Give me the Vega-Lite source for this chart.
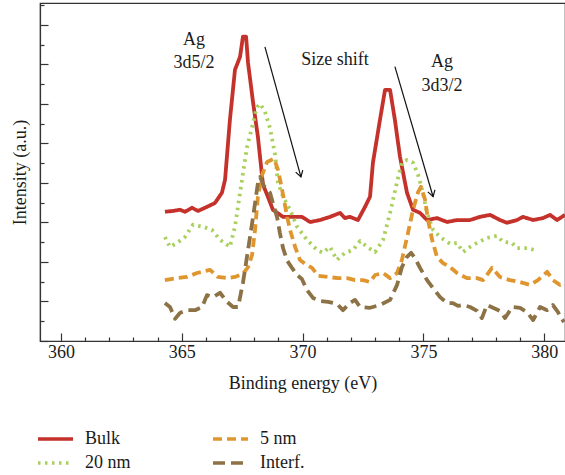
{
  "$schema": "https://vega.github.io/schema/vega-lite/v6.json",
  "autosize": {"type": "none"},
  "padding": {"left": 40, "top": 3, "right": 0, "bottom": 135},
  "width": 525,
  "height": 338,
  "config": {
    "view": {"stroke": "#333", "strokeWidth": 1.2},
    "font": "Liberation Serif",
    "axis": {"grid": false, "domainColor": "#333", "tickColor": "#333", "domainWidth": 1.2, "tickWidth": 1.2,
      "labelFont": "Liberation Serif", "titleFont": "Liberation Serif", "labelColor": "#1a1a1a", "titleColor": "#1a1a1a",
      "titleFontWeight": "normal", "labelFontSize": 18, "titleFontSize": 18}
  },
  "resolve": {"axis": {"x": "independent", "y": "independent"}},
  "layer": [
    {
      "data": {"values": [
        {"s":"Bulk","e":364.30,"v":3.27},{"s":"Bulk","e":364.64,"v":3.29},{"s":"Bulk","e":364.92,"v":3.32},{"s":"Bulk","e":365.13,"v":3.27},{"s":"Bulk","e":365.42,"v":3.37},{"s":"Bulk","e":365.67,"v":3.29},{"s":"Bulk","e":365.96,"v":3.37},{"s":"Bulk","e":366.37,"v":3.49},{"s":"Bulk","e":366.66,"v":3.75},{"s":"Bulk","e":366.79,"v":4.08},{"s":"Bulk","e":366.99,"v":5.59},{"s":"Bulk","e":367.20,"v":6.86},{"s":"Bulk","e":367.41,"v":7.19},{"s":"Bulk","e":367.53,"v":7.70},{"s":"Bulk","e":367.66,"v":7.70},{"s":"Bulk","e":367.74,"v":7.04},{"s":"Bulk","e":367.95,"v":6.03},{"s":"Bulk","e":368.15,"v":5.16},{"s":"Bulk","e":368.36,"v":3.95},{"s":"Bulk","e":368.53,"v":3.70},{"s":"Bulk","e":368.77,"v":3.32},{"s":"Bulk","e":369.19,"v":3.14},{"s":"Bulk","e":369.60,"v":3.14},{"s":"Bulk","e":369.97,"v":3.14},{"s":"Bulk","e":370.31,"v":3.01},{"s":"Bulk","e":370.72,"v":3.06},{"s":"Bulk","e":371.13,"v":3.14},{"s":"Bulk","e":371.55,"v":3.24},{"s":"Bulk","e":371.75,"v":3.11},{"s":"Bulk","e":371.96,"v":3.14},{"s":"Bulk","e":372.29,"v":3.06},{"s":"Bulk","e":372.58,"v":3.39},{"s":"Bulk","e":372.79,"v":3.65},{"s":"Bulk","e":372.91,"v":4.51},{"s":"Bulk","e":373.20,"v":5.59},{"s":"Bulk","e":373.41,"v":6.35},{"s":"Bulk","e":373.62,"v":6.35},{"s":"Bulk","e":373.82,"v":5.59},{"s":"Bulk","e":374.03,"v":4.66},{"s":"Bulk","e":374.32,"v":3.75},{"s":"Bulk","e":374.57,"v":3.32},{"s":"Bulk","e":374.86,"v":3.24},{"s":"Bulk","e":375.15,"v":3.06},{"s":"Bulk","e":375.56,"v":3.11},{"s":"Bulk","e":375.98,"v":3.01},{"s":"Bulk","e":376.39,"v":3.06},{"s":"Bulk","e":376.93,"v":3.06},{"s":"Bulk","e":377.34,"v":3.14},{"s":"Bulk","e":377.76,"v":3.19},{"s":"Bulk","e":378.17,"v":3.06},{"s":"Bulk","e":378.46,"v":2.99},{"s":"Bulk","e":378.87,"v":3.06},{"s":"Bulk","e":379.12,"v":3.14},{"s":"Bulk","e":379.54,"v":3.06},{"s":"Bulk","e":379.95,"v":3.11},{"s":"Bulk","e":380.24,"v":3.19},{"s":"Bulk","e":380.53,"v":3.06},{"s":"Bulk","e":380.86,"v":3.19},

        {"s":"20 nm","e":364.30,"v":2.63},{"s":"20 nm","e":364.51,"v":2.38},{"s":"20 nm","e":364.80,"v":2.48},{"s":"20 nm","e":365.13,"v":2.63},{"s":"20 nm","e":365.46,"v":2.94},{"s":"20 nm","e":365.88,"v":2.89},{"s":"20 nm","e":366.25,"v":2.81},{"s":"20 nm","e":366.58,"v":2.56},{"s":"20 nm","e":366.99,"v":2.38},{"s":"20 nm","e":367.20,"v":2.89},{"s":"20 nm","e":367.41,"v":3.75},{"s":"20 nm","e":367.70,"v":4.91},{"s":"20 nm","e":367.91,"v":5.42},{"s":"20 nm","e":368.11,"v":5.92},{"s":"20 nm","e":368.24,"v":6.00},{"s":"20 nm","e":368.44,"v":5.80},{"s":"20 nm","e":368.65,"v":5.39},{"s":"20 nm","e":368.86,"v":4.71},{"s":"20 nm","e":368.98,"v":4.00},{"s":"20 nm","e":369.19,"v":3.65},{"s":"20 nm","e":369.48,"v":3.32},{"s":"20 nm","e":369.77,"v":2.89},{"s":"20 nm","e":370.18,"v":2.56},{"s":"20 nm","e":370.60,"v":2.30},{"s":"20 nm","e":370.84,"v":2.23},{"s":"20 nm","e":371.13,"v":2.38},{"s":"20 nm","e":371.42,"v":2.05},{"s":"20 nm","e":371.75,"v":2.23},{"s":"20 nm","e":372.09,"v":2.30},{"s":"20 nm","e":372.38,"v":2.53},{"s":"20 nm","e":372.67,"v":2.38},{"s":"20 nm","e":373.00,"v":2.25},{"s":"20 nm","e":373.33,"v":2.56},{"s":"20 nm","e":373.62,"v":3.24},{"s":"20 nm","e":373.91,"v":4.03},{"s":"20 nm","e":374.11,"v":4.51},{"s":"20 nm","e":374.32,"v":4.58},{"s":"20 nm","e":374.57,"v":4.51},{"s":"20 nm","e":374.78,"v":4.20},{"s":"20 nm","e":374.94,"v":3.85},{"s":"20 nm","e":375.15,"v":3.24},{"s":"20 nm","e":375.40,"v":2.81},{"s":"20 nm","e":375.69,"v":2.63},{"s":"20 nm","e":376.10,"v":2.46},{"s":"20 nm","e":376.39,"v":2.48},{"s":"20 nm","e":376.64,"v":2.25},{"s":"20 nm","e":376.93,"v":2.38},{"s":"20 nm","e":377.22,"v":2.48},{"s":"20 nm","e":377.63,"v":2.61},{"s":"20 nm","e":378.05,"v":2.66},{"s":"20 nm","e":378.29,"v":2.51},{"s":"20 nm","e":378.67,"v":2.48},{"s":"20 nm","e":378.87,"v":2.35},{"s":"20 nm","e":379.29,"v":2.35},{"s":"20 nm","e":379.74,"v":2.28},

        {"s":"5 nm","e":364.30,"v":1.54},{"s":"5 nm","e":364.80,"v":1.59},{"s":"5 nm","e":365.21,"v":1.62},{"s":"5 nm","e":365.63,"v":1.72},{"s":"5 nm","e":366.17,"v":1.80},{"s":"5 nm","e":366.50,"v":1.62},{"s":"5 nm","e":366.87,"v":1.59},{"s":"5 nm","e":367.20,"v":1.62},{"s":"5 nm","e":367.53,"v":1.70},{"s":"5 nm","e":367.74,"v":1.87},{"s":"5 nm","e":367.91,"v":2.18},{"s":"5 nm","e":368.03,"v":2.81},{"s":"5 nm","e":368.15,"v":3.65},{"s":"5 nm","e":368.32,"v":4.20},{"s":"5 nm","e":368.53,"v":4.53},{"s":"5 nm","e":368.82,"v":4.61},{"s":"5 nm","e":368.98,"v":4.33},{"s":"5 nm","e":369.11,"v":3.95},{"s":"5 nm","e":369.23,"v":3.57},{"s":"5 nm","e":369.36,"v":3.14},{"s":"5 nm","e":369.48,"v":2.81},{"s":"5 nm","e":369.69,"v":2.38},{"s":"5 nm","e":369.89,"v":2.05},{"s":"5 nm","e":370.10,"v":1.95},{"s":"5 nm","e":370.39,"v":1.85},{"s":"5 nm","e":370.64,"v":1.65},{"s":"5 nm","e":371.05,"v":1.62},{"s":"5 nm","e":371.46,"v":1.59},{"s":"5 nm","e":371.84,"v":1.59},{"s":"5 nm","e":372.17,"v":1.54},{"s":"5 nm","e":372.50,"v":1.54},{"s":"5 nm","e":372.79,"v":1.49},{"s":"5 nm","e":373.00,"v":1.67},{"s":"5 nm","e":373.33,"v":1.72},{"s":"5 nm","e":373.62,"v":1.59},{"s":"5 nm","e":373.91,"v":1.72},{"s":"5 nm","e":374.11,"v":2.05},{"s":"5 nm","e":374.36,"v":2.73},{"s":"5 nm","e":374.57,"v":3.32},{"s":"5 nm","e":374.78,"v":3.77},{"s":"5 nm","e":374.90,"v":3.90},{"s":"5 nm","e":375.07,"v":3.57},{"s":"5 nm","e":375.19,"v":3.06},{"s":"5 nm","e":375.36,"v":2.56},{"s":"5 nm","e":375.56,"v":2.13},{"s":"5 nm","e":375.81,"v":1.97},{"s":"5 nm","e":376.10,"v":1.87},{"s":"5 nm","e":376.39,"v":1.72},{"s":"5 nm","e":376.80,"v":1.59},{"s":"5 nm","e":377.22,"v":1.59},{"s":"5 nm","e":377.47,"v":1.54},{"s":"5 nm","e":377.84,"v":1.85},{"s":"5 nm","e":378.17,"v":1.62},{"s":"5 nm","e":378.58,"v":1.54},{"s":"5 nm","e":379.00,"v":1.49},{"s":"5 nm","e":379.41,"v":1.42},{"s":"5 nm","e":379.74,"v":1.54},{"s":"5 nm","e":380.12,"v":1.75},{"s":"5 nm","e":380.36,"v":1.54},{"s":"5 nm","e":380.65,"v":1.42},{"s":"5 nm","e":380.86,"v":1.49},

        {"s":"Interf.","e":364.30,"v":0.96},{"s":"Interf.","e":364.51,"v":0.86},{"s":"Interf.","e":364.72,"v":0.56},{"s":"Interf.","e":364.92,"v":0.71},{"s":"Interf.","e":365.21,"v":0.78},{"s":"Interf.","e":365.55,"v":0.78},{"s":"Interf.","e":365.84,"v":0.86},{"s":"Interf.","e":366.04,"v":1.16},{"s":"Interf.","e":366.29,"v":1.11},{"s":"Interf.","e":366.58,"v":1.22},{"s":"Interf.","e":366.87,"v":0.99},{"s":"Interf.","e":367.12,"v":0.86},{"s":"Interf.","e":367.33,"v":0.86},{"s":"Interf.","e":367.53,"v":1.47},{"s":"Interf.","e":367.74,"v":2.30},{"s":"Interf.","e":367.95,"v":3.14},{"s":"Interf.","e":368.15,"v":4.00},{"s":"Interf.","e":368.24,"v":4.15},{"s":"Interf.","e":368.40,"v":3.92},{"s":"Interf.","e":368.65,"v":3.75},{"s":"Interf.","e":368.77,"v":3.49},{"s":"Interf.","e":368.94,"v":3.14},{"s":"Interf.","e":369.06,"v":2.73},{"s":"Interf.","e":369.19,"v":2.35},{"s":"Interf.","e":369.36,"v":2.03},{"s":"Interf.","e":369.56,"v":1.85},{"s":"Interf.","e":369.77,"v":1.67},{"s":"Interf.","e":369.97,"v":1.57},{"s":"Interf.","e":370.18,"v":1.29},{"s":"Interf.","e":370.43,"v":1.09},{"s":"Interf.","e":370.72,"v":1.01},{"s":"Interf.","e":371.05,"v":0.99},{"s":"Interf.","e":371.42,"v":0.94},{"s":"Interf.","e":371.67,"v":0.78},{"s":"Interf.","e":371.96,"v":0.96},{"s":"Interf.","e":372.17,"v":1.04},{"s":"Interf.","e":372.38,"v":0.86},{"s":"Interf.","e":372.79,"v":0.84},{"s":"Interf.","e":373.20,"v":0.91},{"s":"Interf.","e":373.62,"v":1.04},{"s":"Interf.","e":373.91,"v":1.42},{"s":"Interf.","e":374.11,"v":1.87},{"s":"Interf.","e":374.32,"v":2.13},{"s":"Interf.","e":374.49,"v":2.23},{"s":"Interf.","e":374.65,"v":2.10},{"s":"Interf.","e":374.86,"v":1.85},{"s":"Interf.","e":375.15,"v":1.54},{"s":"Interf.","e":375.36,"v":1.37},{"s":"Interf.","e":375.69,"v":1.11},{"s":"Interf.","e":375.98,"v":0.96},{"s":"Interf.","e":376.22,"v":0.96},{"s":"Interf.","e":376.43,"v":0.89},{"s":"Interf.","e":376.64,"v":0.91},{"s":"Interf.","e":376.93,"v":0.86},{"s":"Interf.","e":377.22,"v":0.76},{"s":"Interf.","e":377.42,"v":0.58},{"s":"Interf.","e":377.63,"v":0.91},{"s":"Interf.","e":377.88,"v":0.84},{"s":"Interf.","e":378.17,"v":0.76},{"s":"Interf.","e":378.38,"v":0.58},{"s":"Interf.","e":378.67,"v":0.86},{"s":"Interf.","e":379.00,"v":0.84},{"s":"Interf.","e":379.29,"v":0.73},{"s":"Interf.","e":379.54,"v":0.53},{"s":"Interf.","e":379.83,"v":0.86},{"s":"Interf.","e":380.12,"v":0.78},{"s":"Interf.","e":380.36,"v":0.91},{"s":"Interf.","e":380.57,"v":0.73},{"s":"Interf.","e":380.70,"v":0.58},{"s":"Interf.","e":380.82,"v":0.48}
      ]},
      "mark": {"type": "line", "strokeWidth": 3.8, "clip": true, "strokeJoin": "round"},
      "encoding": {
        "x": {"field": "e", "type": "quantitative", "title": "Binding energy (eV)",
          "scale": {"domain": [359.13, 380.86], "nice": false, "zero": false},
          "axis": {"values": [360, 365, 370, 375, 380], "labelOverlap": false, "tickSize": -8,
            "labelPadding": 10, "titlePadding": 13}},
        "y": {"field": "v", "type": "quantitative", "title": "Intensity (a.u.)",
          "scale": {"domain": [0, 8.55], "nice": false},
          "axis": {"values": [0,1,2,3,4,5,6,7,8], "labels": false, "tickSize": -8, "titlePadding": 10}},
        "color": {"field": "s", "type": "nominal", "title": null,
          "scale": {"domain": ["Bulk", "20 nm", "5 nm", "Interf."], "range": ["#c4322b", "#a8d05a", "#e0962f", "#8c7245"]},
          "legend": {"orient": "none", "legendX": -4, "legendY": 427, "columns": 2, "direction": "vertical", "symbolType": "stroke", "symbolSize": 1225,
            "symbolStrokeWidth": 3.5, "labelFont": "Liberation Serif", "labelFontSize": 18, "labelColor": "#1a1a1a",
            "labelOffset": 10, "clipHeight": 18, "rowPadding": 6, "columnPadding": 80}},
        "strokeDash": {"field": "s", "type": "nominal", "title": null,
          "scale": {"domain": ["Bulk", "20 nm", "5 nm", "Interf."], "range": [[1, 0], [2.5, 4.5], [9, 5], [12, 6]]}}
      }
    },
    {
      "data": {"values": [
        {"x1": 368.44, "y1": 7.44, "x2": 369.93, "y2": 4.15},
        {"x1": 373.82, "y1": 6.94, "x2": 375.40, "y2": 3.65}
      ]},
      "mark": {"type": "rule", "color": "#111", "strokeWidth": 1.2},
      "encoding": {
        "x": {"field": "x1", "type": "quantitative",
          "axis": {"orient": "bottom", "values": [361,362,363,364,366,367,368,369,371,372,373,374,376,377,378,379], "labels": false, "domain": false, "tickSize": -4, "title": null}},
        "y": {"field": "y1", "type": "quantitative",
          "axis": {"orient": "left", "values": [0.5,1.5,2.5,3.5,4.5,5.5,6.5,7.5,8.5], "labels": false, "domain": false, "tickSize": -4, "title": null}},
        "x2": {"field": "x2"},
        "y2": {"field": "y2"}
      }
    },
    {
      "data": {"values": [
        {"x2": 369.93, "y2": 4.15},
        {"x2": 375.40, "y2": 3.65}
      ]},
      "mark": {"type": "point", "shape": "M -0.6 -1 L 0 0 L 0.6 -1", "filled": false, "stroke": "#111", "strokeWidth": 1.2, "size": 150, "angle": -16, "opacity": 1},
      "encoding": {
        "x": {"field": "x2", "type": "quantitative", "axis": null},
        "y": {"field": "y2", "type": "quantitative", "axis": null}
      }
    },
    {
      "data": {"values": [
        {"t": "Ag", "x": 365.50, "y": 7.62},
        {"t": "3d5/2", "x": 365.50, "y": 7.04},
        {"t": "Size shift", "x": 371.34, "y": 7.11},
        {"t": "Ag", "x": 375.77, "y": 7.06},
        {"t": "3d3/2", "x": 375.77, "y": 6.46}
      ]},
      "mark": {"type": "text", "font": "Liberation Serif", "fontSize": 18, "color": "#1a1a1a", "align": "center", "baseline": "middle"},
      "encoding": {
        "x": {"field": "x", "type": "quantitative", "axis": null},
        "y": {"field": "y", "type": "quantitative", "axis": null},
        "text": {"field": "t"}
      }
    }
  ]
}
